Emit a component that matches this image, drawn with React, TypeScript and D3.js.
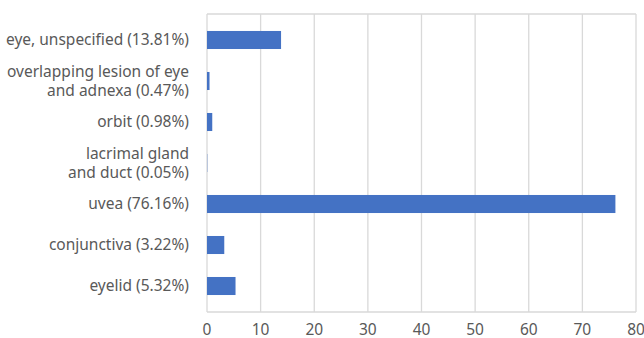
import React from "react";
import * as d3 from "d3";

const categories = [
  ["eye, unspecified (13.81%)"],
  ["overlapping lesion of eye", "and adnexa (0.47%)"],
  ["orbit (0.98%)"],
  ["lacrimal gland", "and duct (0.05%)"],
  ["uvea (76.16%)"],
  ["conjunctiva (3.22%)"],
  ["eyelid (5.32%)"],
];
const values = [13.81, 0.47, 0.98, 0.05, 76.16, 3.22, 5.32];
const xTicks = [0, 10, 20, 30, 40, 50, 60, 70, 80];

const W = 644;
const H = 338;
const left = 207;
const right = 636;
const top = 14;
const bottom = 312;
const FONT = "'Noto Sans', sans-serif";
const TEXT = "#595959";

export default function App() {
  const x = d3.scaleLinear().domain([0, 80]).range([left, right]);
  const keys = categories.map((_, i) => String(i));
  const y = d3.scaleBand().domain(keys).range([top, bottom]).paddingInner(0.56).paddingOuter(0.414);
  const lineH = 18.5;
  return (
    <svg width={W} height={H} style={{ position: "absolute", left: 0, top: 0, background: "#fff" }}>
      {xTicks.map((t) => (
        <line key={"g" + t} x1={x(t)} x2={x(t)} y1={top} y2={bottom} stroke="#d9d9d9" strokeWidth={1.3} />
      ))}
      <line x1={left} x2={right} y1={top} y2={top} stroke="#d9d9d9" strokeWidth={1.3} />
      <line x1={left} x2={right} y1={bottom} y2={bottom} stroke="#d9d9d9" strokeWidth={1.3} />
      {values.map((v, i) => (
        <rect key={"b" + i} x={x(0)} y={y(String(i))!} width={x(v) - x(0)} height={y.bandwidth()} fill="#4472c4" />
      ))}
      {categories.map((lines, i) => {
        const cy = y(String(i))! + y.bandwidth() / 2;
        const start = cy - ((lines.length - 1) * lineH) / 2;
        return (
          <text key={"l" + i} textAnchor="end" fontFamily={FONT} fontSize={15.5} fill={TEXT}>
            {lines.map((s, j) => (
              <tspan key={j} x={189} y={start + j * lineH} dy="0.35em">
                {s}
              </tspan>
            ))}
          </text>
        );
      })}
      {xTicks.map((t) => (
        <text key={"t" + t} x={x(t)} y={330} dy="0.35em" textAnchor="middle" fontFamily={FONT} fontSize={15.5} fill={TEXT}>
          {t}
        </text>
      ))}
    </svg>
  );
}
